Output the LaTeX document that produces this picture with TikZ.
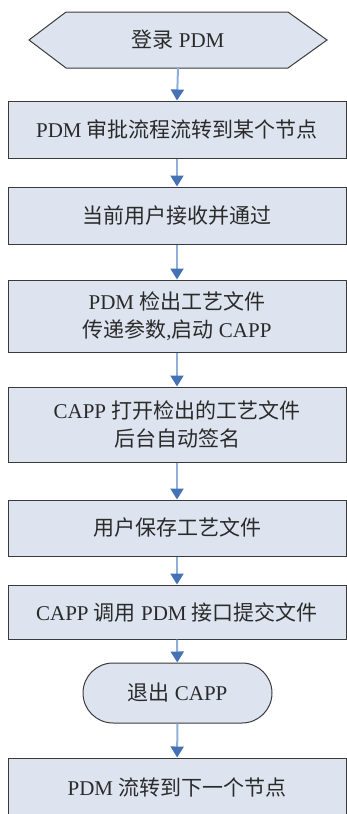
\documentclass[tikz,border=0pt]{standalone}
\usepackage{fontspec}
\setmainfont{Liberation Serif}
\newfontfamily\cjk{Noto Sans CJK SC}
\usetikzlibrary{arrows.meta,shapes.misc}
\definecolor{boxfill}{HTML}{DDE4EF}
\definecolor{boxline}{HTML}{3A3A3A}
\definecolor{connline}{HTML}{8FAFD9}
\definecolor{arrowdark}{HTML}{4472B4}
\definecolor{txt}{HTML}{2A2A2A}
\tikzset{
  stepbox/.style={draw=boxline, fill=boxfill, line width=1pt, rectangle,
    minimum width=338pt, inner sep=0pt, align=center, text=txt,
    font=\fontsize{21}{28}\selectfont},
  stadium/.style={draw=boxline, fill=boxfill, line width=1pt, rounded rectangle,
    minimum width=189pt, minimum height=60pt, inner sep=0pt, text=txt,
    font=\fontsize{21}{28}\selectfont},
  conn/.style={draw=connline, line width=2pt,
    -{Triangle[width=13pt,length=11pt,color=arrowdark]}}
}
\begin{document}
\begin{tikzpicture}[x=1pt,y=-1pt]
\useasboundingbox (0,0) rectangle (347,814);
% hexagon
\filldraw[draw=boxline, fill=boxfill, line width=1pt]
  (29,40) -- (66,12) -- (288,12) -- (327,40) -- (288,68) -- (66,68) -- cycle;
\node[inner sep=0pt, minimum width=298pt, minimum height=56pt, text=txt,
  font=\fontsize{21}{28}\selectfont] (hex) at (178,40) {{\cjk 登录} PDM};
\node[stepbox, minimum height=57pt] (b1) at (177,129.5) {PDM {\cjk 审批流程流转到某个节点}};
\node[stepbox, minimum height=57pt] (b2) at (177,215.5) {{\cjk 当前用户接收并通过}};
\node[stepbox, minimum height=72pt] (b3) at (177,316) {PDM {\cjk 检出工艺文件}\\{\cjk 传递参数},{\cjk 启动} CAPP};
\node[stepbox, minimum height=75pt] (b4) at (177,424.5) {CAPP {\cjk 打开检出的工艺文件}\\{\cjk 后台自动签名}};
\node[stepbox, minimum height=56pt] (b5) at (177,528) {{\cjk 用户保存工艺文件}};
\node[stepbox, minimum height=54pt] (b6) at (177,612) {CAPP {\cjk 调用} PDM {\cjk 接口提交文件}};
\node[stadium] (s1) at (177.5,693) {{\cjk 退出} CAPP};
\node[stepbox, minimum height=60pt] (b7) at (177,788) {PDM {\cjk 流转到下一个节点}};
\draw[conn] (hex.south) -- (b1.north);
\draw[conn] (b1) -- (b2);
\draw[conn] (b2) -- (b3);
\draw[conn] (b3) -- (b4);
\draw[conn] (b4) -- (b5);
\draw[conn] (b5) -- (b6);
\draw[conn] (b6) -- (s1);
\draw[conn] (s1) -- (b7);
\end{tikzpicture}
\end{document}
